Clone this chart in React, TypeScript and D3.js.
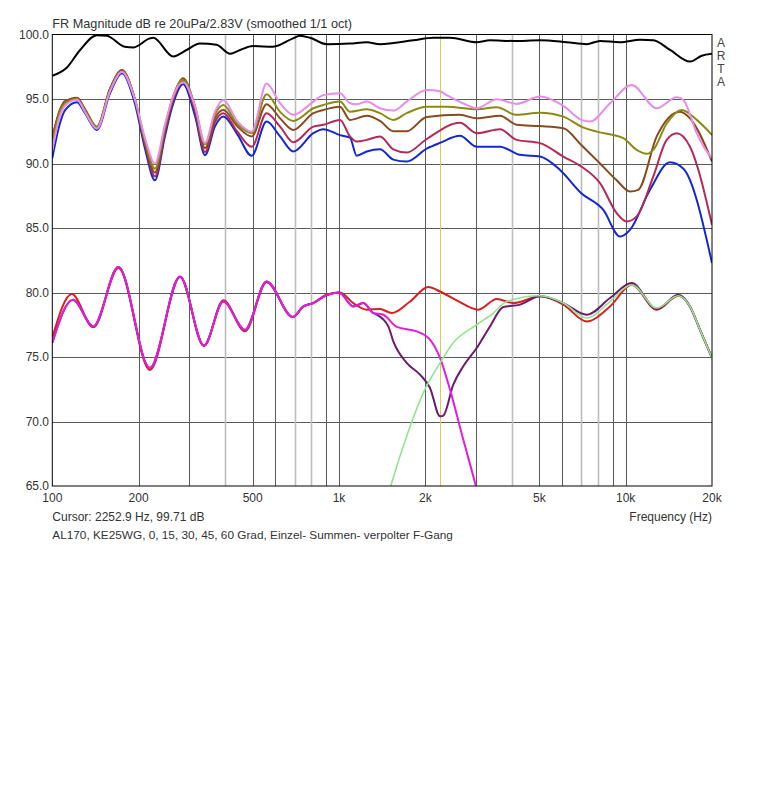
import * as d3 from 'd3';
import React, { useMemo } from 'react';

type Pt = [number, number];

// angle responses (0, 15, 30, 45, 60 deg)
const pink: Pt[] = [
    [100, 91.0], [106, 93.6], [111, 94.5], [122, 94.95], [130, 94.0], [143, 92.7], [159, 95.6], [175, 97.1],
    [194, 95.0], [211, 91.9], [228, 90.0], [247, 93.0], [262, 95.0], [286, 96.3], [315, 94.4], [341, 91.6],
    [369, 94.0], [395, 94.93], [441, 93.3], [496, 92.47], [559, 96.2], [623, 94.67], [693, 93.77], [814, 94.8],
    [881, 95.3], [1008, 95.45], [1092, 94.67], [1153, 94.6], [1250, 94.8], [1390, 94.28], [1547, 94.1],
    [1722, 94.8], [2023, 95.7], [2251, 95.6], [2376, 95.3], [2789, 94.54], [3022, 94.28], [3550, 94.98],
    [4167, 94.62], [5025, 95.19], [6060, 94.46], [7000, 93.38], [7507, 93.25], [8817, 94.67], [10493, 96.09],
    [12828, 94.28], [15075, 95.14], [15896, 94.93], [17690, 92.35], [18600, 91.4], [20000, 90.4],
];
const olive: Pt[] = [
    [100, 91.7], [106, 93.9], [111, 94.7], [122, 95.0], [130, 94.1], [143, 92.8], [159, 95.7], [175, 97.15],
    [194, 95.0], [211, 91.7], [228, 89.6], [247, 92.8], [262, 95.0], [286, 96.5], [315, 94.4], [341, 91.5],
    [369, 93.8], [395, 94.54], [441, 93.1], [496, 92.35], [559, 95.37], [623, 94.0], [693, 93.3], [814, 94.28],
    [881, 94.54], [1008, 94.8], [1092, 94.02], [1250, 94.2], [1390, 93.9], [1547, 93.38], [1722, 93.9],
    [2023, 94.4], [2376, 94.4], [3022, 94.2], [3550, 94.36], [4167, 93.77], [5025, 93.94], [6060, 93.63],
    [7000, 92.86], [7925, 92.47], [9808, 91.96], [10924, 91.06], [11839, 90.75], [12485, 91.06], [13900, 93.1],
    [15692, 94.15], [17690, 93.38], [20000, 92.22],
];
const brown: Pt[] = [
    [100, 92.0], [106, 94.1], [111, 94.85], [122, 95.05], [130, 94.2], [143, 92.85], [159, 95.8], [175, 97.2],
    [194, 95.0], [211, 91.6], [228, 89.3], [247, 92.6], [262, 94.9], [286, 96.6], [315, 94.3], [341, 91.2],
    [369, 93.5], [395, 94.15], [441, 92.9], [496, 92.1], [559, 94.6], [623, 93.5], [693, 92.6], [814, 93.9],
    [881, 94.15], [1008, 94.4], [1092, 93.38], [1250, 93.7], [1390, 93.3], [1547, 92.5], [1722, 92.5],
    [2023, 93.6], [2642, 93.77], [3022, 93.5], [3644, 93.7], [4167, 93.0], [5025, 92.9], [6060, 92.74],
    [7000, 91.44], [8137, 90.0], [9302, 88.7], [10350, 87.83], [11065, 87.96], [12828, 92.1], [15467, 94.02],
    [16760, 93.5], [20000, 90.15],
];
const crimson: Pt[] = [
    [100, 92.0], [106, 94.0], [111, 94.8], [122, 95.1], [130, 94.2], [143, 92.8], [159, 95.8], [175, 97.25],
    [194, 95.0], [211, 91.4], [228, 89.0], [247, 92.4], [262, 94.7], [286, 96.4], [315, 94.0], [341, 90.9],
    [369, 93.2], [395, 93.9], [441, 92.5], [496, 91.3], [559, 93.9], [623, 92.86], [693, 91.65], [814, 92.86],
    [881, 93.0], [1008, 93.38], [1092, 92.1], [1153, 91.7], [1250, 91.83], [1390, 92.1], [1547, 91.1],
    [1722, 90.85], [2023, 91.9], [2642, 93.15], [3022, 92.35], [3644, 92.66], [4167, 91.83], [5025, 91.58],
    [6060, 90.54], [7000, 89.77], [8137, 88.48], [9302, 86.15], [10080, 85.5], [10924, 85.9], [12485, 89.0],
    [13900, 91.83], [15075, 92.35], [16760, 91.3], [20000, 85.25],
];
const blue: Pt[] = [
    [100, 90.4], [106, 93.0], [111, 94.15], [122, 94.75], [130, 93.9], [143, 92.6], [159, 95.45], [175, 97.0],
    [194, 94.67], [211, 91.06], [228, 88.7], [247, 92.1], [262, 94.4], [286, 96.15], [315, 93.64], [341, 90.65],
    [369, 92.86], [395, 93.64], [441, 92.3], [496, 90.6], [559, 93.25], [623, 92.1], [693, 90.93], [814, 92.35],
    [881, 92.66], [1008, 92.2], [1092, 92.0], [1153, 90.6], [1250, 90.93], [1390, 91.1], [1547, 90.3],
    [1722, 90.15], [2023, 91.15], [2251, 91.6], [2642, 92.15], [3022, 91.3], [3644, 91.3], [4279, 90.67],
    [5025, 90.54], [5901, 89.5], [7000, 87.7], [8355, 86.4], [9555, 84.34], [10350, 84.86], [12155, 87.96],
    [14280, 90.1], [15896, 89.6], [20000, 82.28],
];

// black top curve
const black: Pt[] = [
    [100, 96.8], [112, 97.4], [125, 98.8], [143, 99.95], [155, 99.9], [179, 99.05], [192, 99.0], [219, 99.7],
    [225, 99.75], [264, 98.3], [294, 98.8], [327, 99.3], [374, 99.2], [417, 98.5], [452, 98.8], [501, 99.1],
    [589, 99.05], [691, 99.7], [731, 99.9], [792, 99.75], [906, 99.25], [1092, 99.3], [1250, 99.4], [1390, 99.25],
    [1816, 99.55], [2133, 99.75], [2439, 99.75], [3022, 99.4], [3363, 99.55], [4055, 99.5], [5025, 99.55],
    [6227, 99.4], [7311, 99.25], [8137, 99.5], [9555, 99.4], [11220, 99.6], [12495, 99.55], [14280, 98.8],
    [16770, 97.9], [18410, 98.35], [20000, 98.5],
];

// single, sum, reversed polarity
const sumRed: Pt[] = [
    [100, 76.5], [117, 79.88], [139, 77.3], [170, 81.9], [219, 74.0], [279, 81.2], [338, 75.85], [395, 79.4],
    [470, 77.0], [559, 80.8], [690, 78.1], [751, 78.9], [814, 79.2], [906, 79.83], [1008, 80.0], [1122, 79.18],
    [1250, 78.67], [1390, 78.72], [1527, 78.41], [1769, 79.3], [2049, 80.42], [2251, 80.08], [2573, 79.39],
    [3061, 78.67], [3550, 79.5], [4055, 79.18], [5025, 79.7], [6060, 79.06], [7311, 77.76], [8817, 78.92],
    [10493, 80.6], [12828, 78.67], [15260, 79.75], [16760, 78.92], [18170, 77.1], [20000, 74.93],
];
const reversed: Pt[] = [
    [100, 76.1], [118, 79.44], [139, 77.37], [170, 81.97], [219, 74.15], [279, 81.25], [338, 75.88], [395, 79.3],
    [470, 77.1], [559, 80.86], [690, 78.1], [751, 78.92], [814, 79.18], [906, 79.8], [1000, 80.0], [1122, 78.92],
    [1216, 79.18], [1317, 78.41], [1354, 78.28], [1486, 77.37], [1547, 76.21], [1722, 74.54], [1917, 73.63],
    [2077, 72.6], [2251, 70.4], [2311, 70.46], [2504, 72.86], [2713, 74.28], [3022, 75.7], [3363, 77.37],
    [3742, 78.87], [4279, 79.06], [5025, 79.7], [6060, 79.18], [7311, 78.28], [8817, 79.57], [10493, 80.73],
    [12828, 78.72], [15260, 79.83], [16760, 78.92], [18170, 77.1], [20000, 74.93],
];
const woofer: Pt[] = [
    [100, 76.1], [118, 79.44], [139, 77.37], [170, 81.97], [219, 74.15], [279, 81.25], [338, 75.88], [395, 79.3],
    [470, 77.1], [559, 80.86], [690, 78.1], [751, 78.92], [814, 79.18], [906, 79.8], [1000, 80.0], [1122, 78.92],
    [1216, 79.18], [1317, 78.41], [1427, 78.28], [1590, 77.33], [1866, 76.99], [2077, 76.34], [2251, 74.93],
    [2439, 72.47], [2713, 68.6], [2982, 65.25], [3100, 63.8],
];
const tweeter: Pt[] = [
    [1450, 63.5], [1527, 65.25], [1722, 68.86], [1968, 72.22], [2251, 74.54], [2504, 76.1], [3022, 77.5],
    [3453, 78.41], [3845, 79.3], [5025, 79.75], [6060, 79.18], [7311, 78.02], [8817, 79.3], [10493, 80.6],
    [12828, 78.8], [15260, 79.75], [16760, 78.92], [18170, 77.1], [20000, 74.93],
];

const dbTicks = [100, 95, 90, 85, 80, 75, 70, 65];
const gridFreqs = [200, 300, 400, 500, 600, 700, 800, 900, 1000, 2000, 3000, 4000, 5000, 6000, 7000, 8000, 9000, 10000];
const lightFreqs = [400, 700, 800, 4000, 7000, 8000];
const freqLabels: [number, string][] = [
    [100, '100'], [200, '200'], [500, '500'], [1000, '1k'], [2000, '2k'], [5000, '5k'], [10000, '10k'], [20000, '20k'],
];
const cursorFreq = 2252.9;

const series: { data: Pt[]; color: string; width: number }[] = [
    { data: black, color: '#000000', width: 2 },
    { data: blue, color: '#1428d2', width: 2 },
    { data: crimson, color: '#b4285a', width: 2 },
    { data: brown, color: '#8a4a1e', width: 2 },
    { data: olive, color: '#8c8a14', width: 2 },
    { data: pink, color: '#e88ce8', width: 2 },
    { data: sumRed, color: '#d42020', width: 2 },
    { data: reversed, color: '#6e1a6e', width: 2 },
    { data: woofer, color: '#e020d8', width: 2 },
    { data: tweeter, color: '#8ee68e', width: 1.6 },
];

const FONT = '"Liberation Sans", Arial, sans-serif';

export default function App() {
    const L = 52.3, R = 712, T = 34.5, B = 486;

    const x = useMemo(() => d3.scaleLog().domain([100, 20000]).range([L, R]), []);
    const y = useMemo(() => d3.scaleLinear().domain([65, 100]).range([B, T]), []);

    const line = useMemo(
        () => d3.line<Pt>().x((d) => x(d[0])).y((d) => y(d[1])).curve(d3.curveMonotoneX),
        [x, y]
    );

    return (
        <div style={{ position: 'absolute', left: 0, top: 0 }}>
            <svg width={764} height={800} style={{ display: 'block', background: '#fff' }} fontFamily={FONT}>
                <defs>
                    <clipPath id="plot">
                        <rect x={L} y={T} width={R - L} height={B - T} />
                    </clipPath>
                </defs>

                <text x={L} y={28} fontSize={12.7} fill="#333">
                    FR Magnitude dB re 20uPa/2.83V (smoothed 1/1 oct)
                </text>

                {dbTicks.slice(1, -1).map((v) => (
                    <line key={v} x1={L} x2={R} y1={Math.round(y(v)) + 0.5} y2={Math.round(y(v)) + 0.5} stroke="#5a5a5a" />
                ))}
                {gridFreqs.map((f) => {
                    const light = lightFreqs.includes(f);
                    const px = Math.round(x(f)) + 0.5;
                    return (
                        <line key={f} x1={px} x2={px} y1={T} y2={B}
                            stroke={light ? '#bdbdbd' : '#5a5a5a'} strokeWidth={light ? 1.6 : 1} />
                    );
                })}
                <line x1={Math.round(x(cursorFreq)) + 0.5} x2={Math.round(x(cursorFreq)) + 0.5} y1={T} y2={B}
                    stroke="#d8cc50" />

                <g clipPath="url(#plot)" fill="none" strokeLinejoin="round">
                    {series.map((s, i) => (
                        <path key={i} d={line(s.data) ?? ''} stroke={s.color} strokeWidth={s.width} />
                    ))}
                </g>

                <rect x={L} y={T} width={R - L} height={B - T} fill="none" stroke="#000" />

                {dbTicks.map((v) => (
                    <text key={v} x={49} y={y(v)} fontSize={12} fill="#333" textAnchor="end" dominantBaseline="central">
                        {v.toFixed(1)}
                    </text>
                ))}
                {freqLabels.map(([f, s]) => (
                    <text key={f} x={x(f)} y={502} fontSize={12} fill="#333" textAnchor="middle">
                        {s}
                    </text>
                ))}

                {['A', 'R', 'T', 'A'].map((c, i) => (
                    <text key={i} x={721} y={47 + i * 13} fontSize={12} fill="#444" textAnchor="middle">
                        {c}
                    </text>
                ))}

                <text x={L} y={521} fontSize={12} fill="#333">Cursor: 2252.9 Hz, 99.71 dB</text>
                <text x={R} y={521} fontSize={12} fill="#333" textAnchor="end">Frequency (Hz)</text>
                <text x={L} y={539} fontSize={11.8} fill="#333">
                    AL170, KE25WG, 0, 15, 30, 45, 60 Grad, Einzel- Summen- verpolter F-Gang
                </text>
            </svg>
        </div>
    );
}
